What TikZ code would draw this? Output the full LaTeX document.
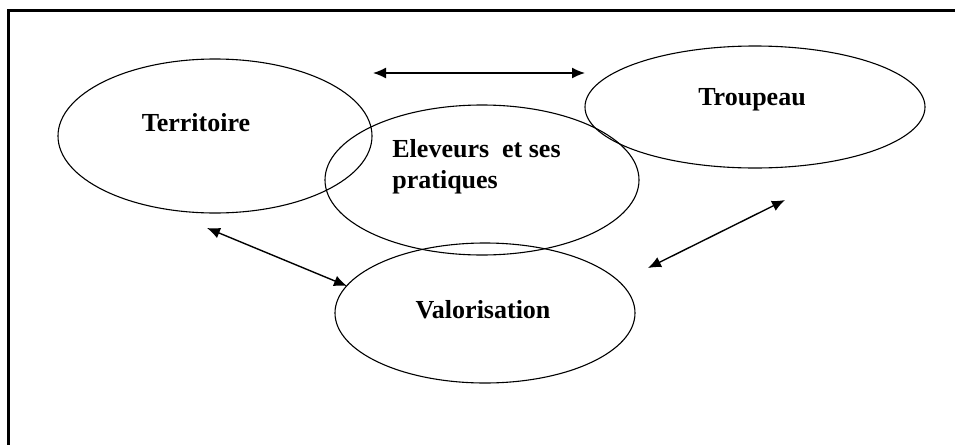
\documentclass[tikz,border=0pt]{standalone}
\usepackage{fontspec}
\setmainfont{Liberation Serif}
\usepackage{tikz}
\usetikzlibrary{arrows.meta, shapes.geometric}

\begin{document}
\begin{tikzpicture}[x=0.5pt, y=-0.5pt,
        bubble/.style = {draw, ellipse, line width=0.55pt, inner sep=0pt},
        lbl/.style = {font=\fontsize{13}{15.5}\selectfont\bfseries, inner sep=0pt},
        link/.style = {arrows={Latex[length=6.5pt, width=5.5pt]-Latex[length=6.5pt, width=5.5pt]}, line width=0.7pt}]
            \useasboundingbox (0,0) rectangle (955,445);
            \draw[line width=1.5pt] (8,446) -- (8,10) -- (956,10);

            \node[bubble, minimum width=157pt, minimum height=77pt] (T) at (215,136) {};
            \node[bubble, minimum width=170pt, minimum height=61pt] (R) at (755,107) {};
            \node[bubble, minimum width=157pt, minimum height=75pt] (E) at (482,180) {};
            \node[bubble, minimum width=150pt, minimum height=70pt] (V) at (485,313) {};

            \node[lbl] (Tl) at (196,123) {Territoire};
            \node[lbl] (Rl) at (752,100) {Troupeau};
            \node[lbl, align=left, anchor=west] (El) at (392,167) {Eleveurs\ \ et ses\\pratiques};
            \node[lbl] (Vl) at (483,310) {Valorisation};

            \coordinate (a1) at (373,73);
            \coordinate (a2) at (585,73);
            \coordinate (b1) at (207,228);
            \coordinate (b2) at (347,286);
            \coordinate (c1) at (648,268);
            \coordinate (c2) at (785,200);

            \path[link] (a1) edge (a2);
            \path[link] (b1) edge (b2);
            \path[link] (c1) edge (c2);
        \end{tikzpicture}
\end{document}
